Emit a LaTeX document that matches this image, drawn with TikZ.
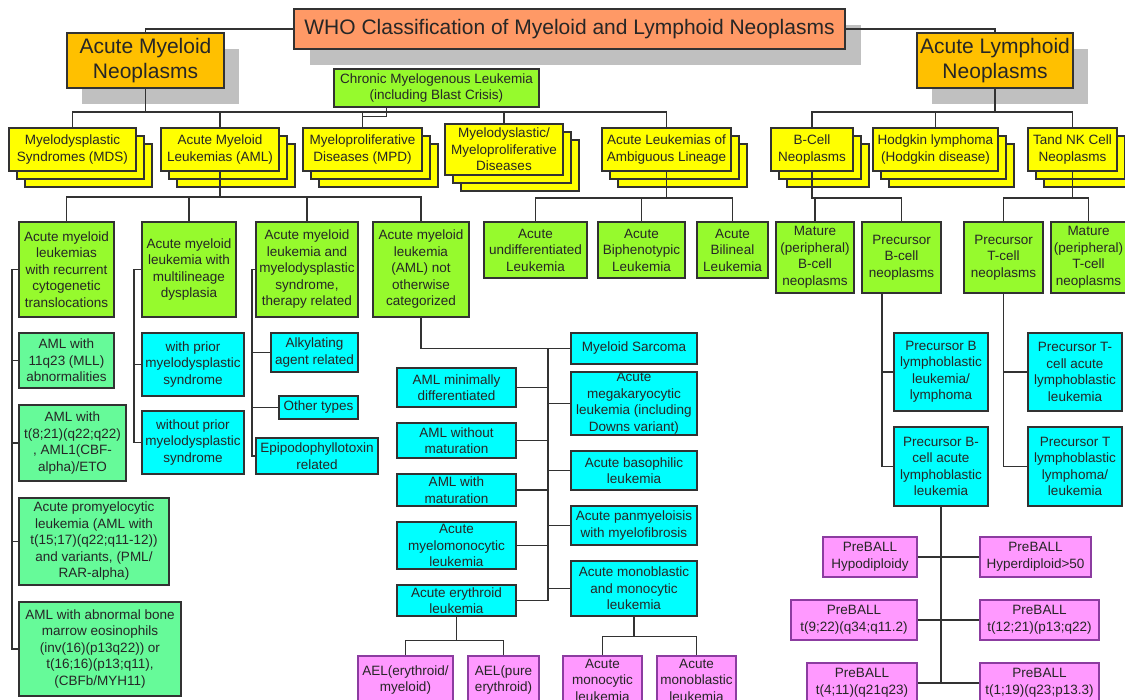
\documentclass[tikz,border=0pt]{standalone}
\usepackage{fontspec}
\setmainfont{Liberation Sans}
\usetikzlibrary{shadows}
\definecolor{titlefill}{RGB}{255,153,102}
\definecolor{headfill}{RGB}{255,192,0}
\definecolor{stackfill}{RGB}{255,255,0}
\definecolor{groupfill}{RGB}{150,250,45}
\definecolor{subfill}{RGB}{102,250,153}
\definecolor{typefill}{RGB}{0,255,255}
\definecolor{genefill}{RGB}{255,153,255}
\definecolor{genedraw}{RGB}{140,60,160}
\definecolor{shadowgray}{RGB}{192,192,192}
\definecolor{edgegray}{RGB}{50,50,50}
\newcommand{\boxfont}{\fontsize{13.5}{16.5}\selectfont}
\newcommand{\headfont}{\fontsize{21}{25}\selectfont}
\tikzset{
  cellbox/.style={draw=edgegray, line width=1.1pt, text=black!85, align=center, inner xsep=1pt, inner ysep=0pt, font=\boxfont},
  boxsize/.style 2 args={minimum width=#1, minimum height=#2},
  titlebox/.style={cellbox, fill=titlefill, font=\headfont, drop shadow={shadow xshift=16pt, shadow yshift=-16pt, fill=shadowgray, opacity=1}},
  headbox/.style={cellbox, fill=headfill, font=\headfont, drop shadow={shadow xshift=15pt, shadow yshift=-16pt, fill=shadowgray, opacity=1}},
  stackbox/.style={cellbox, fill=stackfill, double copy shadow={shadow xshift=8pt, shadow yshift=-8pt}},
  groupbox/.style={cellbox, fill=groupfill},
  subbox/.style={cellbox, fill=subfill},
  typebox/.style={cellbox, fill=typefill},
  genebox/.style={cellbox, fill=genefill, draw=genedraw},
  link/.style={draw=edgegray, line width=1.2pt}
}
\begin{document}
\begin{tikzpicture}[x=1pt, y=-1pt]
  \useasboundingbox (0,0) rectangle (1125,700);
  \clip (0,0) rectangle (1125,700);
  \fill[white] (0,0) rectangle (1125,700);

  % top level
  \node[titlebox, boxsize={551}{40}] (title) at (569.5,29) {WHO Classification of Myeloid and Lymphoid Neoplasms};
  \node[headbox, boxsize={157}{55}] (amn) at (145.5,60.5) {Acute Myeloid\\Neoplasms};
  \node[headbox, boxsize={156}{55}] (aln) at (995,60.5) {Acute Lymphoid\\Neoplasms};
  \node[groupbox, boxsize={205}{38}] (cml) at (436.5,88) {Chronic Myelogenous Leukemia\\(including Blast Crisis)};

  % families
  \node[stackbox, boxsize={127}{43}] (mds) at (72.5,149.5) {Myelodysplastic\\Syndromes (MDS)};
  \node[stackbox, boxsize={118}{43}] (aml) at (220,149.5) {Acute Myeloid\\Leukemias (AML)};
  \node[stackbox, boxsize={119}{43}] (mpd) at (362.5,149.5) {Myeloproliferative\\Diseases (MPD)};
  \node[stackbox, boxsize={118}{51}] (mdmpd) at (504,149.5) {Myelodyslastic/\\Myeloproliferative\\Diseases};
  \node[stackbox, boxsize={129}{43}] (amb) at (666.5,149.5) {Acute Leukemias of\\Ambiguous Lineage};
  \node[stackbox, boxsize={82}{43}] (bcell) at (812,149.5) {B-Cell\\Neoplasms};
  \node[stackbox, boxsize={125}{43}] (hodg) at (935.5,149.5) {Hodgkin lymphoma\\(Hodgkin disease)};
  \node[stackbox, boxsize={89}{43}] (tnk) at (1072.5,149.5) {Tand NK Cell\\Neoplasms};

  % groups
  \node[groupbox, boxsize={95}{95}] (rec) at (66.5,269.5) {Acute myeloid\\leukemias\\with recurrent\\cytogenetic\\translocations};
  \node[groupbox, boxsize={94}{95}] (multi) at (189,269.5) {Acute myeloid\\leukemia with\\multilineage\\dysplasia};
  \node[groupbox, boxsize={102}{95}] (ther) at (307,269.5) {Acute myeloid\\leukemia and\\myelodysplastic\\syndrome,\\therapy related};
  \node[groupbox, boxsize={96}{95}] (nos) at (421,269.5) {Acute myeloid\\leukemia\\(AML) not\\otherwise\\categorized};
  \node[groupbox, boxsize={103}{56}] (undiff) at (535.5,250) {Acute\\undifferentiated\\Leukemia};
  \node[groupbox, boxsize={87}{56}] (biph) at (641.5,250) {Acute\\Biphenotypic\\Leukemia};
  \node[groupbox, boxsize={71}{56}] (bilin) at (732.5,250) {Acute\\Bilineal\\Leukemia};
  \node[groupbox, boxsize={78}{71}] (matb) at (815,257.5) {Mature\\(peripheral)\\B-cell\\neoplasms};
  \node[groupbox, boxsize={79}{71}] (preb) at (901.5,257.5) {Precursor\\B-cell\\neoplasms};
  \node[groupbox, boxsize={79}{71}] (pret) at (1003.5,257.5) {Precursor\\T-cell\\neoplasms};
  \node[groupbox, boxsize={75}{71}] (matt) at (1088.5,257.5) {Mature\\(peripheral)\\T-cell\\neoplasms};

  % recurrent translocations
  \node[subbox, boxsize={95}{55}] (s11q) at (66.5,360.5) {AML with\\11q23 (MLL)\\abnormalities};
  \node[subbox, boxsize={107}{76}] (s821) at (72.5,443) {AML with\\t(8;21)(q22;q22)\\, AML1(CBF-\\alpha)/ETO};
  \node[subbox, boxsize={150}{87}] (apl) at (94,541.5) {Acute promyelocytic\\leukemia (AML with\\t(15;17)(q22;q11-12))\\and variants, (PML/\\RAR-alpha)};
  \node[subbox, boxsize={162}{94}] (eos) at (100,649) {AML with abnormal bone\\marrow eosinophils\\(inv(16)(p13q22)) or\\t(16;16)(p13;q11),\\(CBFb/MYH11)};

  % multilineage and therapy related
  \node[typebox, boxsize={102}{63}] (wp) at (193,364.5) {with prior\\myelodysplastic\\syndrome};
  \node[typebox, boxsize={102}{63}] (wop) at (193,442.5) {without prior\\myelodysplastic\\syndrome};
  \node[typebox, boxsize={87}{39}] (alk) at (314.5,352.5) {Alkylating\\agent related};
  \node[typebox, boxsize={79}{23}] (oth) at (318.5,407.5) {Other types};
  \node[typebox, boxsize={122}{36}] (epi) at (317,456) {Epipodophyllotoxin\\related};

  % not otherwise categorized
  \node[typebox, boxsize={119}{39}] (mindiff) at (456.5,387.5) {AML minimally\\differentiated};
  \node[typebox, boxsize={119}{35}] (womat) at (456.5,440.5) {AML without\\maturation};
  \node[typebox, boxsize={119}{32}] (wmat) at (456.5,490) {AML with\\maturation};
  \node[typebox, boxsize={119}{47}] (mymo) at (456.5,545.5) {Acute\\myelomonocytic\\leukemia};
  \node[typebox, boxsize={119}{31}] (ery) at (456.5,600.5) {Acute erythroid\\leukemia};
  \node[typebox, boxsize={126}{31}] (sarc) at (634,348.5) {Myeloid Sarcoma};
  \node[typebox, boxsize={126}{63}] (mega) at (634,403.5) {Acute\\megakaryocytic\\leukemia (including\\Downs variant)};
  \node[typebox, boxsize={126}{39}] (baso) at (634,470.5) {Acute basophilic\\leukemia};
  \node[typebox, boxsize={126}{39}] (panm) at (634,525.5) {Acute panmyeloisis\\with myelofibrosis};
  \node[typebox, boxsize={126}{55}] (monomix) at (634,588.5) {Acute monoblastic\\and monocytic\\leukemia};
  \node[genebox, boxsize={95}{48}] (ael1) at (405.5,680) {AEL(erythroid/\\myeloid)};
  \node[genebox, boxsize={71}{48}] (ael2) at (503.5,680) {AEL(pure\\erythroid)};
  \node[genebox, boxsize={79}{48}] (amonocyt) at (602.5,680) {Acute\\monocytic\\leukemia};
  \node[genebox, boxsize={79}{48}] (amonoblast) at (696.5,680) {Acute\\monoblastic\\leukemia};

  % precursor lymphoid
  \node[typebox, boxsize={94}{78}] (pbl) at (941,372) {Precursor B\\lymphoblastic\\leukemia/\\lymphoma};
  \node[typebox, boxsize={94}{79}] (pcba) at (941,466.5) {Precursor B-\\cell acute\\lymphoblastic\\leukemia};
  \node[typebox, boxsize={94}{78}] (pta) at (1075,372) {Precursor T-\\cell acute\\lymphoblastic\\leukemia};
  \node[typebox, boxsize={94}{79}] (ptl) at (1075,466.5) {Precursor T\\lymphoblastic\\lymphoma/\\leukemia};
  \node[genebox, boxsize={94}{40}] (hypo) at (870,557) {PreBALL\\Hypodiploidy};
  \node[genebox, boxsize={111}{40}] (hyper) at (1035.5,557) {PreBALL\\Hyperdiploid>50};
  \node[genebox, boxsize={126}{40}] (t922) at (854,620) {PreBALL\\t(9;22)(q34;q11.2)};
  \node[genebox, boxsize={119}{40}] (t1221) at (1039.5,620) {PreBALL\\t(12;21)(p13;q22)};
  \node[genebox, boxsize={110}{40}] (t411) at (862,683) {PreBALL\\t(4;11)(q21q23)};
  \node[genebox, boxsize={119}{40}] (t119) at (1039.5,683) {PreBALL\\t(1;19)(q23;p13.3)};

  % connectors
  \coordinate (mbus) at (0,112);
  \coordinate (gbus) at (0,197);
  \coordinate (abus) at (0,198);
  \draw[link] (title.west) -| (amn.north);
  \draw[link] (title.east) -| (aln.north);
  \draw[link] (amn.south) -- (amn.south |- mbus);
  \draw[link] (mds.north) |- (amb.north |- mbus) -- (amb.north);
  \foreach \n in {aml,mpd,mdmpd}
    \draw[link] (\n.north) -- (\n.north |- mbus);
  \draw[link] ([xshift=-50pt]cml.south) -- ++(0,9) -| (mpd.north);
  \draw[link] (aln.south) -- (aln.south |- mbus);
  \draw[link] (bcell.north) |- (tnk.north |- mbus) -- (tnk.north);
  \draw[link] (hodg.north) -- (hodg.north |- mbus);

  \draw[link] (aml.south) -- (aml.south |- gbus);
  \draw[link] (rec.north) |- (nos.north |- gbus) -- (nos.north);
  \foreach \n in {multi,ther}
    \draw[link] (\n.north) -- (\n.north |- gbus);
  \draw[link] (amb.south) -- (amb.south |- abus);
  \draw[link] (undiff.north) |- (bilin.north |- abus) -- (bilin.north);
  \draw[link] (biph.north) -- (biph.north |- abus);
  \draw[link] (bcell.south) |- (preb.north |- abus) -- (preb.north);
  \draw[link] (matb.north) -- (matb.north |- abus);
  \draw[link] (tnk.south) -- (tnk.south |- abus);
  \draw[link] (pret.north) |- (matt.north |- abus) -- (matt.north);

  \coordinate (rtr) at (12,0);
  \coordinate (mtr) at (134,0);
  \coordinate (ttr) at (252,0);
  \coordinate (ntr) at (548,0);
  \coordinate (btr) at (882,0);
  \draw[link] (rec.west) -| (eos.west -| rtr) -- (eos.west);
  \foreach \n in {s11q,s821,apl}
    \draw[link] (\n.west) -- (\n.west -| rtr);
  \draw[link] (multi.west) -| (wop.west -| mtr) -- (wop.west);
  \draw[link] (wp.west) -- (wp.west -| mtr);
  \draw[link] (ther.west) -| (epi.west -| ttr) -- (epi.west);
  \foreach \n in {alk,oth}
    \draw[link] (\n.west) -- (\n.west -| ttr);

  \draw[link] (nos.south) |- (sarc.west);
  \draw[link] (sarc.west -| ntr) -- (ery.east -| ntr) -- (ery.east);
  \foreach \n in {mindiff,womat,wmat,mymo}
    \draw[link] (\n.east) -- (\n.east -| ntr);
  \foreach \n in {mega,baso,panm,monomix}
    \draw[link] (\n.west) -- (\n.west -| ntr);
  \draw[link] (ery.south) -- ++(0,24) -| (ael1.north);
  \draw[link] (ery.south) ++(0,24) -| (ael2.north);
  \draw[link] (monomix.south) -- ++(0,20) -| (amonocyt.north);
  \draw[link] (monomix.south) ++(0,20) -| (amonoblast.north);

  \draw[link] (preb.south -| btr) |- (pcba.west);
  \draw[link] (pbl.west) -- (pbl.west -| btr);
  \draw[link] (pret.south) |- (ptl.west);
  \draw[link] (pta.west) -- (pta.west -| pret.south);
  \draw[link] (pcba.south) -- (pcba.south |- t411.east);
  \draw[link] (hypo.east) -- (hyper.west);
  \draw[link] (t922.east) -- (t1221.west);
  \draw[link] (t411.east) -- (t119.west);
\end{tikzpicture}
\end{document}
